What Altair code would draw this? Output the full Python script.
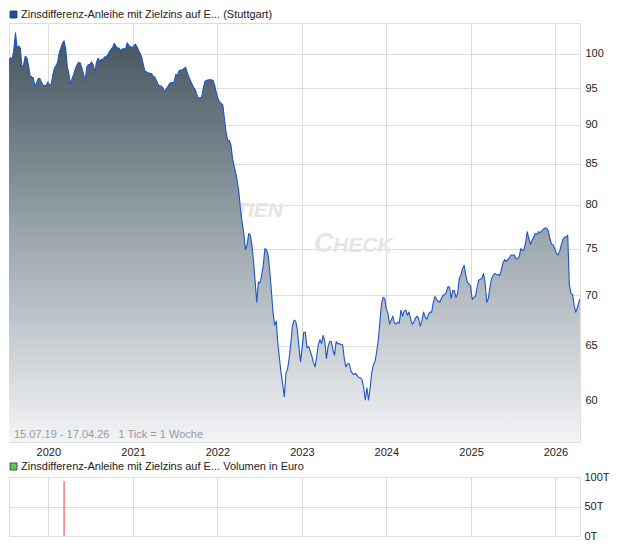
import altair as alt
import pandas as pd

# ---- data ----
prices = [
    99.0, 99.4, 99.1, 100.6, 103.1, 100.9, 101.1, 100.8, 98.0, 98.3,
    99.6, 99.4, 98.3, 96.8, 96.6, 96.5, 95.2, 95.8, 96.3, 96.4,
    95.9, 95.4, 95.4, 95.4, 95.9, 95.5, 95.5, 96.8, 97.8, 98.2,
    98.7, 100.1, 100.8, 101.5, 101.9, 100.7, 98.1, 97.0, 95.6, 96.4,
    97.0, 97.8, 98.3, 98.7, 98.6, 97.9, 97.0, 96.1, 98.0, 98.4,
    98.4, 98.8, 98.3, 97.3, 98.7, 99.3, 98.9, 99.1, 99.1, 99.5,
    99.5, 99.8, 100.3, 100.6, 100.9, 101.5, 101.1, 100.8, 100.8, 100.4,
    100.7, 100.7, 100.7, 101.6, 101.2, 101.0, 100.9, 101.1, 101.4, 101.0,
    100.5, 100.0, 99.4, 98.3, 97.4, 97.3, 97.2, 97.1, 97.1, 96.7,
    96.6, 96.1, 95.6, 95.3, 95.3, 95.1, 94.5, 94.9, 95.2, 95.6,
    95.8, 95.8, 95.9, 97.0, 96.8, 97.5, 97.6, 97.6, 97.8, 98.0,
    97.3, 96.6, 96.1, 95.6, 95.1, 94.8, 94.1, 93.6, 93.7, 93.8,
    95.0, 96.0, 96.1, 96.2, 96.2, 96.2, 96.1, 95.4, 94.4, 93.6,
    93.1, 92.9, 92.7, 90.9, 89.1, 88.0, 88.0, 87.4, 85.7, 84.7,
    83.9, 82.8, 81.4, 79.3, 77.9, 76.7, 74.9, 75.4, 76.7, 76.5,
    75.4, 73.6, 71.4, 69.3, 71.4, 71.3, 72.1, 73.2, 75.0, 74.9,
    74.3, 72.6, 70.5, 68.3, 67.0, 67.4, 65.2, 63.8, 62.4, 61.4,
    60.3, 62.4, 62.8, 63.8, 65.2, 66.9, 67.5, 67.4, 66.6, 64.9,
    63.5, 64.8, 66.3, 66.3, 64.8, 64.9, 64.5, 64.0, 63.4, 63.0,
    64.0, 65.1, 65.6, 65.2, 66.0, 65.4, 63.8, 64.9, 65.4, 65.4,
    64.6, 64.1, 65.4, 65.2, 65.2, 65.1, 65.1, 63.8, 63.0, 63.3,
    63.3, 62.7, 62.4, 62.3, 62.4, 62.2, 62.0, 62.0, 61.8, 61.1,
    60.0, 61.1, 60.0, 61.1, 62.5, 63.2, 63.5, 64.4, 65.5, 67.3,
    69.1, 69.8, 69.7, 68.6, 68.2, 67.1, 67.5, 67.9, 67.2, 67.1,
    67.3, 67.2, 68.5, 67.9, 68.4, 68.5, 68.0, 68.3, 67.6, 67.1,
    67.3, 67.7, 67.9, 67.6, 66.9, 67.5, 68.3, 67.8, 67.6, 68.1,
    68.3, 68.3, 69.3, 69.9, 69.6, 69.4, 69.3, 69.7, 70.0, 70.1,
    70.3, 70.9, 70.9, 69.7, 70.5, 70.5, 69.8, 70.2, 71.8, 72.1,
    72.8, 73.2, 72.2, 71.4, 71.2, 71.0, 69.6, 69.8, 69.9, 70.8,
    71.6, 71.7, 71.8, 72.3, 71.3, 69.3, 69.7, 70.9, 71.8, 72.1,
    72.3, 72.2, 72.2, 72.1, 72.7, 73.4, 73.8, 73.6, 73.8, 74.0,
    74.3, 74.3, 74.3, 73.9, 73.9, 74.1, 75.0, 74.8, 74.9, 75.7,
    76.9, 76.1, 75.5, 75.9, 76.3, 76.7, 76.6, 76.9, 76.8, 77.0,
    77.2, 77.3, 77.3, 77.0, 76.1, 75.5, 75.4, 75.0, 74.5, 74.3,
    74.7, 75.4, 76.0, 76.3, 76.3, 76.5, 71.1, 70.2, 70.1, 68.9,
    68.3, 68.8, 69.4, 69.6,
]
first_day = "2019-07-15"
last_day = "2026-04-17"
price_dates = list(pd.date_range(first_day, periods=len(prices) - 1, freq="7D")) + [pd.Timestamp(last_day)]

volume_dates = [pd.Timestamp("2020-03-09")]
volume_values = [93000]

price_ticks = [60, 65, 70, 75, 80, 85, 90, 95, 100]
volume_ticks = [0, 50000, 100000]
years = [2020, 2021, 2022, 2023, 2024, 2025, 2026]

title_main = "Zinsdifferenz-Anleihe mit Zielzins auf E... (Stuttgart)"
title_volume = "Zinsdifferenz-Anleihe mit Zielzins auf E... Volumen in Euro"
range_note = "15.07.19 - 17.04.26\u00a0\u00a0 1 Tick = 1 Woche"

# ---- chart ----
FONT = "Liberation Sans"
W, H = 571, 419
VH = 59
Y_MIN, Y_MAX = 56.4, 104.6
WM = "#e8e4df"

df = pd.DataFrame({"date": price_dates, "price": prices})
vdf = pd.DataFrame({"date": volume_dates, "vol": volume_values})
one = pd.DataFrame({"k": [0]})

x_scale = alt.Scale(domain=[alt.DateTime(year=2019, month=7, date=15),
                            alt.DateTime(year=2026, month=4, date=17)])
year_vals = [alt.DateTime(year=y, month=1, date=1) for y in years]

x_main = alt.X("date:T", scale=x_scale, title=None,
               axis=alt.Axis(values=year_vals, format="%Y", grid=True, gridColor="#dddddd",
                             ticks=False, domain=False, labelPadding=4, labelFontSize=11,
                             labelColor="#222222", labelFont=FONT))
y_main = alt.Y("price:Q", title=None,
               scale=alt.Scale(type="log", domain=[Y_MIN, Y_MAX], nice=False, zero=False),
               axis=alt.Axis(orient="right", values=price_ticks, grid=True, gridColor="#dddddd",
                             ticks=False, domain=False, labelPadding=5, labelFontSize=11,
                             labelColor="#222222", labelFont=FONT))

grad = alt.Gradient(gradient="linear", x1=0, x2=0, y1=0, y2=1,
                    stops=[alt.GradientStop(color="#44535d", offset=0),
                           alt.GradientStop(color="#9ba6ad", offset=0.5),
                           alt.GradientStop(color="#f3f4f6", offset=1)])

base = alt.Chart(df)
area = base.mark_area(color=grad, clip=True).encode(x=x_main, y=y_main, y2=alt.datum(Y_MIN))
line = base.mark_line(color="#1c55c6", strokeWidth=1.1, clip=True,
                      strokeJoin="round").encode(x="date:T", y="price:Q")

def wm_text(txt, size, x, align):
    return alt.Chart(one).mark_text(text=txt, font=FONT, fontSize=size, fontStyle="italic",
                                    fontWeight="bold", color=WM, align=align,
                                    baseline="alphabetic").encode(
        x=alt.value(x), y=alt.value(0))

wm1 = alt.Chart(one).mark_text(text="AKTIEN", font=FONT, fontSize=21, fontStyle="italic",
                               fontWeight="bold", color=WM, align="right",
                               baseline="alphabetic").encode(x=alt.value(274), y=alt.value(194))
wm2 = alt.Chart(one).mark_text(text="C", font=FONT, fontSize=27, fontStyle="italic",
                               fontWeight="bold", color=WM, align="left",
                               baseline="alphabetic").encode(x=alt.value(305), y=alt.value(229))
wm3 = alt.Chart(one).mark_text(text="HECK", font=FONT, fontSize=21, fontStyle="italic",
                               fontWeight="bold", color=WM, align="left",
                               baseline="alphabetic").encode(x=alt.value(324), y=alt.value(229))

note = alt.Chart(one).mark_text(text=range_note, font=FONT, fontSize=11, color="#9a9a9a",
                                align="left", baseline="middle").encode(
    x=alt.value(5), y=alt.value(H - 7))

sq1 = alt.Chart(one).mark_rect(color="#1f4fb0", stroke="#333333", strokeWidth=0.8).encode(
    x=alt.value(1), x2=alt.value(8), y=alt.value(-12), y2=alt.value(-5))
t1 = alt.Chart(one).mark_text(text=title_main, font=FONT, fontSize=11, color="#222222",
                              align="left", baseline="middle").encode(
    x=alt.value(12), y=alt.value(-8))

main = alt.layer(wm1, wm2, wm3, area, line, note, sq1, t1).properties(width=W, height=H)

x_vol = alt.X("date:T", scale=x_scale, title=None,
              axis=alt.Axis(values=year_vals, grid=True, gridColor="#dddddd", labels=False,
                            ticks=False, domain=False))
y_vol = alt.Y("vol:Q", title=None, scale=alt.Scale(domain=[0, 100000], nice=False),
              axis=alt.Axis(orient="right", values=volume_ticks, grid=True, gridColor="#dddddd",
                            ticks=False, domain=False, labelPadding=4, labelFontSize=11,
                            labelColor="#222222", labelFont=FONT,
                            labelExpr="datum.value / 1000 + 'T'"))
vol = alt.Chart(vdf).mark_rule(color="#e03a3a", strokeWidth=1).encode(
    x=x_vol, y=y_vol, y2=alt.datum(0))
sq2 = alt.Chart(one).mark_rect(color="#5cc95c", stroke="#333333", strokeWidth=0.8).encode(
    x=alt.value(1), x2=alt.value(8), y=alt.value(-14), y2=alt.value(-7))
t2 = alt.Chart(one).mark_text(text=title_volume, font=FONT, fontSize=11, color="#222222",
                              align="left", baseline="middle").encode(
    x=alt.value(12), y=alt.value(-10))
volume = alt.layer(vol, sq2, t2).properties(width=W, height=VH)

chart = alt.vconcat(main, volume, spacing=2).properties(padding=0).configure_view(
    stroke="#cccccc", strokeWidth=1
).configure(background="white")

chart.save("out.html", embed_options={"renderer": "svg", "actions": False})
